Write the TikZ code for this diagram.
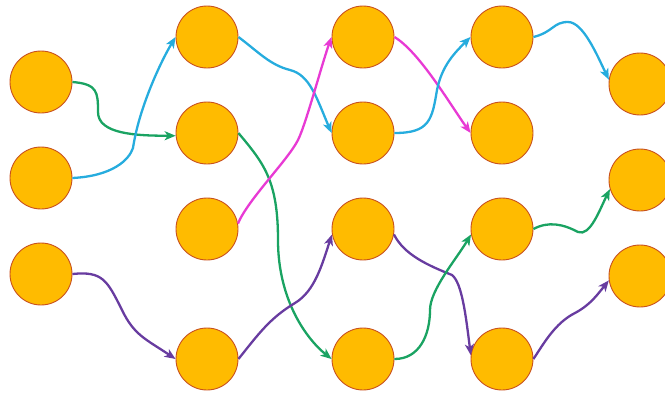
\documentclass[tikz,border=0pt]{standalone}
\usetikzlibrary{arrows.meta}
\definecolor{nodefill}{RGB}{255,187,0}
\definecolor{nodeline}{RGB}{200,80,30}
\definecolor{cblue}{RGB}{38,172,222}
\definecolor{cgreen}{RGB}{26,163,98}
\definecolor{cmag}{RGB}{232,58,212}
\definecolor{cpurp}{RGB}{104,60,160}
\begin{document}
\begin{tikzpicture}[x=1pt,y=-1pt,
  dot/.style={circle,minimum size=62pt,inner sep=0pt,fill=nodefill,draw=nodeline,line width=0.9pt},
  link/.style={line width=2.3pt,-{Stealth[length=11pt,width=9pt,inset=3pt]}},
  lblue/.style={link,cblue},
  lgreen/.style={link,cgreen},
  lmag/.style={link,cmag},
  lpurp/.style={link,cpurp}]
\useasboundingbox (0,0) rectangle (665,394);
% nodes
\node[dot] (a1) at (41,82) {};
\node[dot] (a2) at (41,178) {};
\node[dot] (a3) at (41,274) {};
\node[dot] (b1) at (207,37) {};
\node[dot] (b2) at (207,133) {};
\node[dot] (b3) at (207,229) {};
\node[dot] (b4) at (207,359) {};
\node[dot] (c1) at (363,37) {};
\node[dot] (c2) at (363,133) {};
\node[dot] (c3) at (363,229) {};
\node[dot] (c4) at (363,359) {};
\node[dot] (d1) at (502,37) {};
\node[dot] (d2) at (502,133) {};
\node[dot] (d3) at (502,229) {};
\node[dot] (d4) at (502,359) {};
\node[dot] (e1) at (640,84) {};
\node[dot] (e2) at (640,180) {};
\node[dot] (e3) at (640,276) {};
% connectors
\draw[lgreen] (a1.east) .. controls +(25,2) and +(0,-20) .. (98,112) .. controls +(0,22) and +(-40,0) .. (b2.185);
\draw[lblue] (a2.east) .. controls +(40,-2) and +(-4,12) .. (133,148) .. controls +(6,-40) and +(-15,25) .. (b1.west);
\draw[lblue] (b1.east) .. controls +(20,15) and +(-20,-5) .. (290,70) .. controls +(20,5) and +(-15,-35) .. (c2.west);
\draw[lgreen] (b2.east) .. controls +(25,30) and +(0,-60) .. (278,240) .. controls +(0,60) and +(-25,-20) .. (c4.west);
\draw[lmag] (b3.10) .. controls +(10,-24) and +(-10,20) .. (298,140) .. controls +(8,-16) and +(-10,28) .. (c1.west);
\draw[lmag] (c1.east) .. controls +(25,15) and +(-20,-28) .. (d2.west);
\draw[lblue] (c2.east) .. controls +(35,0) and +(-5,30) .. (437,90) .. controls +(5,-25) and +(-15,15) .. (d1.west);
\draw[lblue] (d1.east) .. controls +(20,-5) and +(-15,0) .. (568,22) .. controls +(15,0) and +(-12,-25) .. (e1.172);
\draw[lpurp] (a3.east) .. controls +(30,-3) and +(-15,-30) .. (122,310) .. controls +(12,25) and +(-30,-20) .. (b4.west);
\draw[lpurp] (b4.east) .. controls +(20,-25) and +(-25,15) .. (295,303) .. controls +(20,-12) and +(-10,30) .. (c3.190);
\draw[lpurp] (c3.-10) .. controls +(10,20) and +(-25,-10) .. (452,275) .. controls +(10,8) and +(-5,-40) .. (d4.173);
\draw[lgreen] (c4.east) .. controls +(25,0) and +(0,25) .. (430,310) .. controls +(0,-20) and +(-15,25) .. (d3.190);
\draw[lgreen] (d3.east) .. controls +(15,-8) and +(-15,-8) .. (578,232) .. controls +(12,5) and +(-10,20) .. (e2.197);
\draw[lpurp] (d4.east) .. controls +(10,-15) and +(-20,10) .. (575,313) .. controls +(15,-8) and +(-12,15) .. (e3.188);
\end{tikzpicture}
\end{document}
